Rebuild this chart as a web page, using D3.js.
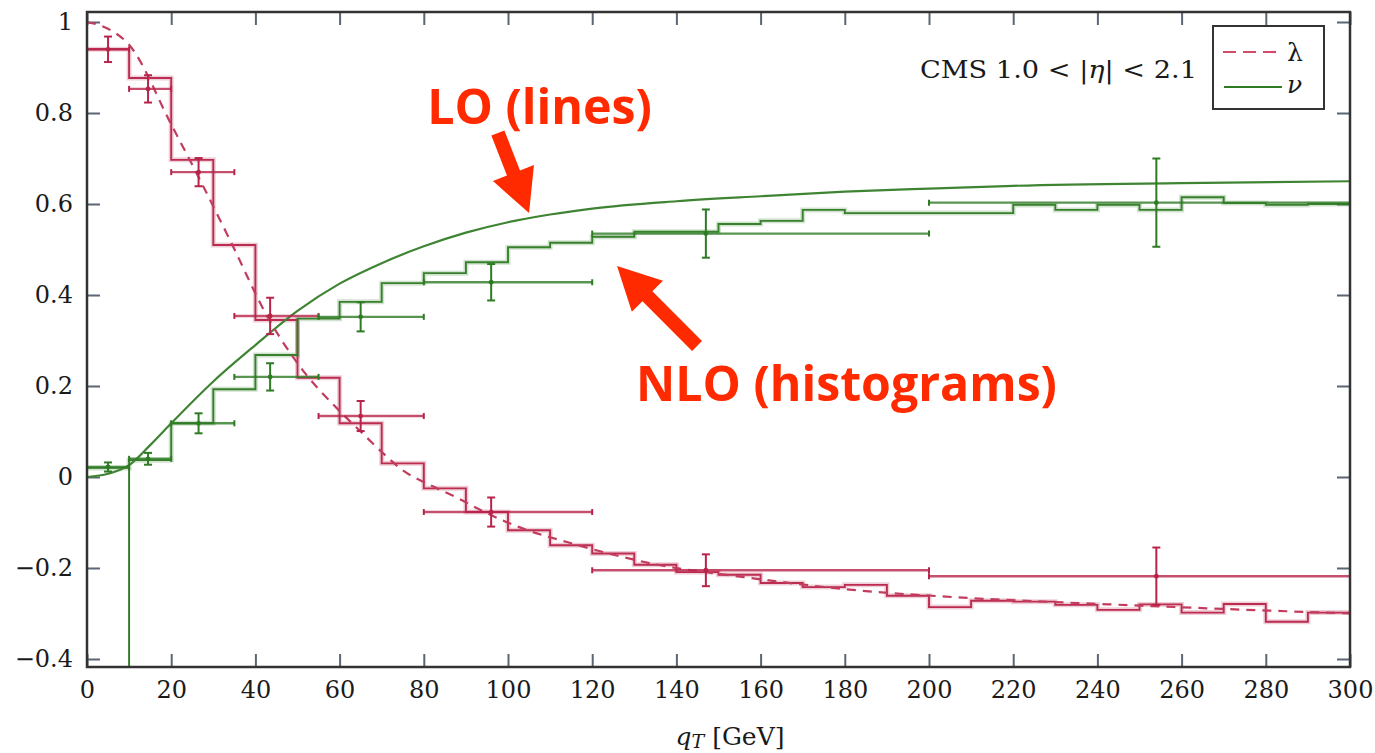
<!DOCTYPE html>
<html>
<head>
<meta charset="utf-8">
<script src="https://cdn.jsdelivr.net/npm/d3@7/dist/d3.min.js"></script>
<style>
  html, body { margin: 0; padding: 0; background: #fff; }
  svg { display: block; }
</style>
</head>
<body>
<script>
// ---------------- data ----------------
const xTicks = [0, 20, 40, 60, 80, 100, 120, 140, 160, 180, 200, 220, 240, 260, 280, 300];
const yTicks = [1, 0.8, 0.6, 0.4, 0.2, 0, -0.2, -0.4];
const yTickLabels = ["1", "0.8", "0.6", "0.4", "0.2", "0", "\u22120.2", "\u22120.4"];

// NLO histogram bin edges (GeV)
const binEdges = [0, 10, 20, 30, 40, 50, 60, 70, 80, 90, 100, 110, 120, 130, 140, 150,
                  160, 170, 180, 190, 200, 210, 220, 230, 240, 250, 260, 270, 280, 290, 300];
// NLO lambda histogram (one value per bin)
const lambdaNLO = [0.94, 0.877, 0.697, 0.51, 0.345, 0.218, 0.118, 0.03, -0.025, -0.077,
                   -0.117, -0.15, -0.168, -0.193, -0.209, -0.215, -0.233, -0.242, -0.237, -0.261,
                   -0.286, -0.272, -0.274, -0.281, -0.292, -0.28, -0.298, -0.279, -0.318, -0.298];
// NLO nu histogram (one value per bin)
const nuNLO = [0.02, 0.037, 0.118, 0.193, 0.268, 0.348, 0.385, 0.426, 0.448, 0.472,
               0.505, 0.515, 0.528, 0.539, 0.539, 0.556, 0.563, 0.587, 0.58, 0.58,
               0.58, 0.58, 0.598, 0.587, 0.598, 0.587, 0.615, 0.602, 0.598, 0.6];
// nu NLO drop at qT = 10 GeV (from, to)
const nuNLOSpikeQ = 10;
const nuNLOSpikeRange = [0.02, -0.6];

// LO curves
const lambdaLOq = [0, 5, 10, 20, 27, 34, 43, 50, 60, 65, 70, 75, 82, 88, 94, 104, 114, 126, 134, 156, 184, 204, 243, 270, 300];
const lambdaLOv = [1.0, 0.985, 0.95, 0.775, 0.65, 0.52, 0.35, 0.25, 0.145, 0.10, 0.055, 0.015, -0.02, -0.046, -0.075, -0.115, -0.143, -0.173, -0.19, -0.22, -0.25, -0.263, -0.28, -0.29, -0.30];
const nuLOq = [0, 5, 10, 15, 20, 30, 40, 50, 60, 70, 80, 90, 100, 110, 120, 140, 160, 180, 200, 220, 260, 300];
const nuLOv = [0, 0.007, 0.026, 0.07, 0.118, 0.21, 0.29, 0.365, 0.425, 0.47, 0.507, 0.537, 0.56, 0.577, 0.59, 0.606, 0.617, 0.627, 0.634, 0.64, 0.646, 0.65];

// CMS data points
const dataQ = [5, 14.5, 26.5, 43.5, 65, 96, 147, 254];
const dataBinLo = [0, 10, 20, 35, 55, 80, 120, 200];
const dataBinHi = [10, 20, 35, 55, 80, 120, 200, 300];
const lambdaData = [0.94, 0.853, 0.67, 0.354, 0.134, -0.077, -0.205, -0.218];
const lambdaErr = [0.028, 0.03, 0.031, 0.04, 0.033, 0.032, 0.035, 0.063];
const nuData = [0.022, 0.04, 0.118, 0.22, 0.352, 0.428, 0.535, 0.603];
const nuErr = [0.01, 0.013, 0.022, 0.03, 0.032, 0.04, 0.053, 0.097];

// annotations (anchor in data units)
const annotations = [
  { text: "LO (lines)", tx: 80.8, ty: 0.776, width: 53.4, tail: [97.6, 0.756], tip: [105.0, 0.58] },
  { text: "NLO (histograms)", tx: 130.4, ty: 0.167, width: 100.0, tail: [144.9, 0.288], tip: [125.9, 0.464] }
];

// ---------------- chart ----------------
const W = 1375, H = 753;
const RED = "#b8234a", GREEN = "#2e7b24";
const x = d3.scaleLinear().domain([0, 300]).range([87, 1350]);
const y = d3.scaleLinear().domain([-0.4176, 1.022]).range([667, 12]);

const svg = d3.select("body").append("svg").attr("width", W).attr("height", H);

svg.append("defs").append("clipPath").attr("id", "plotclip")
  .append("rect").attr("x", x(0)).attr("y", y(1.022)).attr("width", x(300) - x(0)).attr("height", y(-0.4176) - y(1.022));

const serif = "'DejaVu Serif', 'Liberation Serif', serif";

// axes
function styleAxis(g) {
  g.select(".domain").remove();
  g.selectAll(".tick line").attr("stroke", "#5b6573").attr("stroke-width", 2);
  g.selectAll(".tick text").attr("font-family", serif).attr("font-size", 24).attr("fill", "#1a1a1a");
}
svg.append("g").attr("transform", `translate(0,${y.range()[0]})`)
  .call(d3.axisBottom(x).tickValues(xTicks).tickFormat(d3.format("d")).tickSizeInner(-13).tickSizeOuter(0).tickPadding(14))
  .call(styleAxis);
svg.append("g").attr("transform", `translate(0,${y.range()[1]})`)
  .call(d3.axisTop(x).tickValues(xTicks).tickFormat("").tickSizeInner(-13).tickSizeOuter(0))
  .call(styleAxis);
svg.append("g").attr("transform", `translate(${x.range()[0]},0)`)
  .call(d3.axisLeft(y).tickValues(yTicks).tickFormat((d, i) => yTickLabels[i]).tickSizeInner(-13).tickSizeOuter(0).tickPadding(14))
  .call(styleAxis);
svg.append("g").attr("transform", `translate(${x.range()[1]},0)`)
  .call(d3.axisRight(y).tickValues(yTicks).tickFormat("").tickSizeInner(-13).tickSizeOuter(0))
  .call(styleAxis);

const plot = svg.append("g").attr("clip-path", "url(#plotclip)");

// histograms
function histPoints(vals) {
  const pts = vals.map((v, i) => [binEdges[i], v]);
  pts.push([binEdges[binEdges.length - 1], vals[vals.length - 1]]);
  return pts;
}
const stepLine = d3.line().x(d => x(d[0])).y(d => y(d[1])).curve(d3.curveStepAfter);
function drawHist(vals, color) {
  const pts = histPoints(vals);
  plot.append("path").attr("d", stepLine(pts)).attr("fill", "none")
    .attr("stroke", color).attr("stroke-width", 5).attr("stroke-opacity", 0.22);
  plot.append("path").attr("d", stepLine(pts)).attr("fill", "none")
    .attr("stroke", color).attr("stroke-width", 1.9).attr("stroke-opacity", 0.95);
}
drawHist(lambdaNLO, RED);
drawHist(nuNLO, GREEN);
plot.append("line")
  .attr("x1", x(nuNLOSpikeQ)).attr("x2", x(nuNLOSpikeQ))
  .attr("y1", y(nuNLOSpikeRange[0])).attr("y2", y(nuNLOSpikeRange[1]))
  .attr("stroke", GREEN).attr("stroke-width", 1.9);

// LO curves
const smooth = d3.line().x(d => x(d[0])).y(d => y(d[1])).curve(d3.curveMonotoneX);
plot.append("path").attr("d", smooth(nuLOq.map((q, i) => [q, nuLOv[i]])))
  .attr("fill", "none").attr("stroke", "#3f8433").attr("stroke-width", 2.2);
plot.append("path").attr("d", smooth(lambdaLOq.map((q, i) => [q, lambdaLOv[i]])))
  .attr("fill", "none").attr("stroke", "#c23c5e").attr("stroke-width", 2.2).attr("stroke-dasharray", "9,7");

// data points
function drawData(vals, errs, color) {
  const g = plot.append("g").attr("stroke", color).attr("fill", color);
  vals.forEach((v, i) => {
    const cx = x(dataQ[i]), cy = y(v);
    const x0 = x(dataBinLo[i]), x1 = x(dataBinHi[i]);
    g.append("line").attr("x1", x0).attr("x2", x1).attr("y1", cy).attr("y2", cy)
      .attr("stroke-width", 2.4).attr("stroke-opacity", 0.8);
    [x0, x1].forEach(xe => g.append("line").attr("x1", xe).attr("x2", xe)
      .attr("y1", cy - 3).attr("y2", cy + 3).attr("stroke-width", 2));
    const ya = y(v + errs[i]), yb = y(v - errs[i]);
    g.append("line").attr("x1", cx).attr("x2", cx).attr("y1", ya).attr("y2", yb).attr("stroke-width", 2);
    [ya, yb].forEach(ye => g.append("line").attr("x1", cx - 4).attr("x2", cx + 4)
      .attr("y1", ye).attr("y2", ye).attr("stroke-width", 2));
    g.append("circle").attr("cx", cx).attr("cy", cy).attr("r", 2.4).attr("stroke", "none");
  });
}
drawData(lambdaData, lambdaErr, RED);
drawData(nuData, nuErr, GREEN);

// frame
svg.append("rect").attr("x", x(0)).attr("y", y(1.022)).attr("width", x(300) - x(0))
  .attr("height", y(-0.4176) - y(1.022)).attr("fill", "none").attr("stroke", "#333").attr("stroke-width", 2.5);

// CMS label
const cms = svg.append("text").attr("x", 920).attr("y", 78)
  .attr("font-family", serif).attr("font-size", 25).attr("fill", "#1a1a1a")
  .attr("textLength", 277).attr("lengthAdjust", "spacingAndGlyphs");
cms.append("tspan").text("CMS 1.0 < |");
cms.append("tspan").attr("font-style", "italic").text("\u03B7");
cms.append("tspan").text("| < 2.1");

// legend
const lg = svg.append("g");
lg.append("rect").attr("x", 1213).attr("y", 26).attr("width", 111).attr("height", 83)
  .attr("fill", "#fff").attr("stroke", "#333").attr("stroke-width", 2);
lg.append("line").attr("x1", 1223).attr("x2", 1278).attr("y1", 52).attr("y2", 52)
  .attr("stroke", "#d24a6a").attr("stroke-width", 2.2).attr("stroke-dasharray", "13,7");
lg.append("text").attr("x", 1287).attr("y", 61).attr("font-family", serif).attr("font-size", 25)
  .attr("fill", "#1a1a1a").text("\u03BB");
lg.append("line").attr("x1", 1224).attr("x2", 1282).attr("y1", 87).attr("y2", 87)
  .attr("stroke", GREEN).attr("stroke-width", 2);
lg.append("text").attr("x", 1287).attr("y", 93).attr("font-family", serif).attr("font-size", 25)
  .attr("font-style", "italic").attr("fill", "#1a1a1a").text("\u03BD");

// x-axis title
const xt = svg.append("text").attr("x", 730).attr("y", 745).attr("text-anchor", "middle")
  .attr("font-family", serif).attr("font-size", 25).attr("fill", "#1a1a1a");
xt.append("tspan").attr("font-style", "italic").text("q");
xt.append("tspan").attr("font-style", "italic").attr("font-size", 19).attr("dy", 3).text("T");
xt.append("tspan").attr("dy", -3).text(" [GeV]");

// annotations
const ORANGE = "#ff2a00";
function arrow(tail, tip) {
  const ax = x(tail[0]), ay = y(tail[1]), bx = x(tip[0]), by = y(tip[1]);
  const dx = bx - ax, dy = by - ay, L = Math.hypot(dx, dy);
  const ux = dx / L, uy = dy / L, nx = -uy, ny = ux;
  const hw = 7, hl = 43, hh = 22;
  const bxh = bx - ux * hl, byh = by - uy * hl;
  const p = [
    [ax + nx * hw, ay + ny * hw], [bxh + nx * hw, byh + ny * hw], [bxh + nx * hh, byh + ny * hh],
    [bx, by], [bxh - nx * hh, byh - ny * hh], [bxh - nx * hw, byh - ny * hw], [ax - nx * hw, ay - ny * hw]
  ];
  return "M" + p.map(q => q.join(",")).join("L") + "Z";
}
annotations.forEach(a => {
  svg.append("text").attr("x", x(a.tx)).attr("y", y(a.ty))
    .attr("font-family", "'Gill Sans', 'Open Sans', Lato, sans-serif").attr("font-weight", 700)
    .attr("font-size", 48).attr("fill", ORANGE)
    .attr("textLength", x(a.tx + a.width) - x(a.tx)).attr("lengthAdjust", "spacingAndGlyphs")
    .text(a.text);
  svg.append("path").attr("d", arrow(a.tail, a.tip)).attr("fill", ORANGE);
});
</script>
</body>
</html>
